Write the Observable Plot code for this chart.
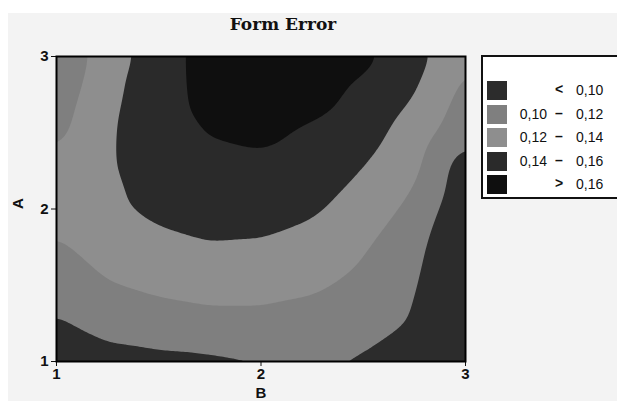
<!DOCTYPE html>
<html>
<head>
<meta charset="utf-8">
<script src="https://cdn.jsdelivr.net/npm/d3@7"></script>
<script src="https://cdn.jsdelivr.net/npm/@observablehq/plot@0.6"></script>
<style>
  html, body { margin: 0; padding: 0; background: #ffffff; width: 617px; height: 401px; overflow: hidden; }
  #panel { position: absolute; left: 8px; top: 13px; width: 609px; height: 388px; background: #f3f3f3; }
  #chart { position: absolute; left: 0; top: 0; }
  #title { position: absolute; left: 183px; width: 200px; top: 14px; text-align: center;
           font-family: "DejaVu Serif", serif; font-weight: bold; font-size: 17px; color: #111; }
  #legend { position: absolute; left: 481px; top: 55px; width: 150px; height: 144px;
            background: #ffffff; border: 2px solid #111; box-sizing: border-box; }
  .row { position: absolute; left: 0; height: 19px; width: 150px;
         font-family: "Liberation Sans", sans-serif; font-size: 14px; color: #111; }
  .sw { position: absolute; left: 4px; top: 0; width: 20px; height: 19px; }
  .lo { position: absolute; right: 86px; top: 1px; text-align: right; }
  .sym { position: absolute; left: 69px; width: 14px; top: 0px; text-align: center; font-weight: bold; }
  .hi { position: absolute; left: 93px; top: 1px; }
</style>
</head>
<body>
<div id="panel"></div>
<div id="chart"></div>
<div id="title">Form Error</div>
<div id="legend"></div>
<script>
// Axis positions (B across, A up)
const bValues = [1, 1.25, 1.5, 1.75, 2, 2.25, 2.5, 2.75, 3];
const aValues = [3, 2.75, 2.5, 2.25, 2, 1.75, 1.5, 1.25, 1];

// Form error, one row per A value (top to bottom)
const formErrorA300 = [0.105, 0.129, 0.151, 0.168, 0.175, 0.173, 0.165, 0.148, 0.122];
const formErrorA275 = [0.108, 0.135, 0.151, 0.167, 0.172, 0.168, 0.155, 0.1405, 0.114];
const formErrorA250 = [0.114, 0.138, 0.150, 0.161, 0.164, 0.157, 0.148, 0.131, 0.106];
const formErrorA225 = [0.127, 0.138, 0.148, 0.153, 0.155, 0.151, 0.1395, 0.124, 0.088];
const formErrorA200 = [0.128, 0.137, 0.144, 0.147, 0.147, 0.143, 0.131, 0.115, 0.084];
const formErrorA175 = [0.117, 0.128, 0.135, 0.139, 0.138, 0.132, 0.122, 0.106, 0.080];
const formErrorA150 = [0.107, 0.119, 0.124, 0.127, 0.127, 0.123, 0.116, 0.102, 0.076];
const formErrorA125 = [0.098, 0.107, 0.111, 0.114, 0.114, 0.112, 0.107, 0.099, 0.072];
const formErrorA100 = [0.088, 0.093, 0.095, 0.096, 0.098, 0.1005, 0.098, 0.088, 0.067];
const formErrorRows = [formErrorA300, formErrorA275, formErrorA250, formErrorA225, formErrorA200,
                       formErrorA175, formErrorA150, formErrorA125, formErrorA100];

// Contour levels and colours
const levelBreaks = [0.10, 0.12, 0.14, 0.16];
const contourThresholds = [0, 0.10, 0.12, 0.14, 0.16];
const levelColors = ["#2c2c2c", "#7f7f7f", "#8e8e8e", "#2a2a2a", "#0f0f0f"];

// Legend texts
const legendLo  = ["", "0,10", "0,12", "0,14", ""];
const legendSym = ["<", "–", "–", "–", ">"];
const legendHi  = ["0,10", "0,12", "0,14", "0,16", "0,16"];

const xTicks = [1, 2, 3];
const yTicks = [1, 2, 3];

const points = formErrorRows.flatMap((row, i) =>
  row.map((z, j) => ({b: bValues[j], a: aValues[i], z})));

const chart = Plot.plot({
  width: 617,
  height: 401,
  marginLeft: 56,
  marginRight: 152,
  marginTop: 56,
  marginBottom: 40,
  style: {background: "transparent", fontFamily: "'Liberation Sans', sans-serif", fontSize: "15px", fontWeight: "bold", color: "#111"},
  x: {domain: [1, 3], ticks: xTicks, tickFormat: d => String(d), label: null, tickSize: 5, tickPadding: 2},
  y: {domain: [1, 3], ticks: yTicks, tickFormat: d => String(d), label: null, tickSize: 5, tickPadding: 3},
  color: {type: "threshold", domain: levelBreaks, range: levelColors},
  marks: [
    Plot.contour(points, {
      x: "b", y: "a", fill: "z",
      thresholds: contourThresholds,
      interpolate: "barycentric",
      blur: 4,
      stroke: "none",
      clip: true
    }),
    Plot.frame({stroke: "#000", strokeWidth: 2}),
    Plot.text(["B"], {frameAnchor: "bottom", dy: 36, text: d => d, fontSize: 15}),
    Plot.text(["A"], {frameAnchor: "left", dx: -38, rotate: -90, text: d => d, fontSize: 15})
  ]
});
document.getElementById("chart").appendChild(chart);

// Legend
const legend = document.getElementById("legend");
const rowTops = [24, 48, 71, 95, 118];
legendHi.forEach((hi, i) => {
  const row = document.createElement("div");
  row.className = "row";
  row.style.top = rowTops[i] + "px";
  row.innerHTML = `<div class="sw" style="background:${levelColors[i]}"></div>` +
    `<span class="lo">${legendLo[i]}</span><span class="sym">${legendSym[i]}</span><span class="hi">${hi}</span>`;
  legend.appendChild(row);
});
</script>
</body>
</html>
